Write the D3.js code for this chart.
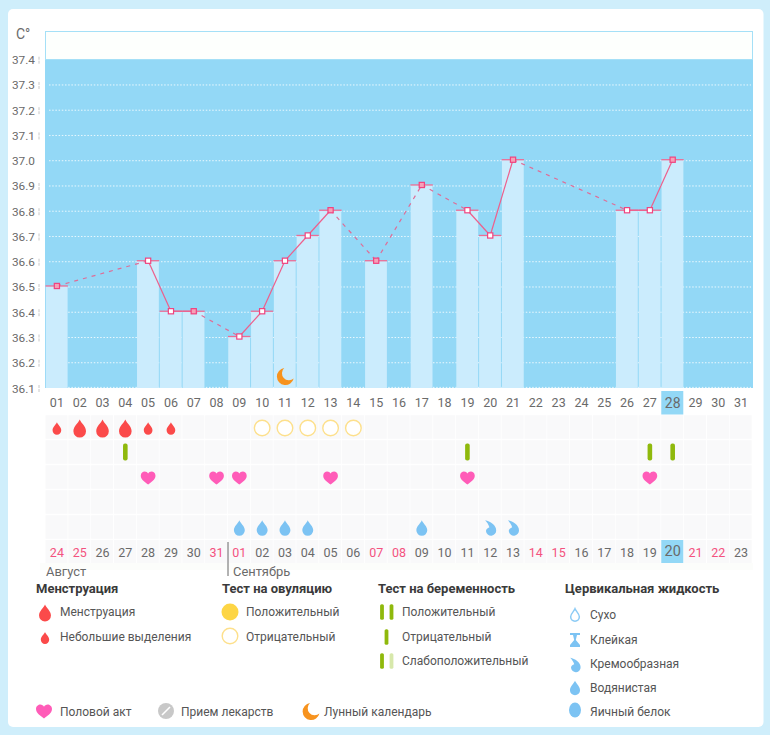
<!DOCTYPE html>
<html><head><meta charset="utf-8">
<script src="https://cdn.jsdelivr.net/npm/d3@7"></script>
<style>html,body{margin:0;padding:0;background:#cfeefb;}svg{display:block;}text{font-family:Roboto,"Open Sans",sans-serif;}</style>
</head><body><svg id="c" width="770" height="735"></svg>
<script>
const cycleDays=["01","02","03","04","05","06","07","08","09","10","11","12","13","14","15","16","17","18","19","20","21","22","23","24","25","26","27","28","29","30","31"];
const calendarDates=["24","25","26","27","28","29","30","31","01","02","03","04","05","06","07","08","09","10","11","12","13","14","15","16","17","18","19","20","21","22","23"];
const redDates=[0,1,7,8,14,15,21,22,28,29];
const tempTicks=[36.1,36.2,36.3,36.4,36.5,36.6,36.7,36.8,36.9,37.0,37.1,37.2,37.3,37.4];
const temps=[[0,36.5],[4,36.6],[5,36.4],[6,36.4],[8,36.3],[9,36.4],[10,36.6],[11,36.7],[12,36.8],[14,36.6],[16,36.9],[18,36.8],[19,36.7],[20,37.0],[25,36.8],[26,36.8],[27,37.0]];
const menstruation=[[0,"s"],[1,"l"],[2,"l"],[3,"l"],[4,"s"],[5,"s"]];
const ovulationNeg=[9,10,11,12,13];
const pregnancyNeg=[3,18,26,27];
const hearts=[4,7,8,12,18,26];
const waterFluid=[8,9,10,11,16];
const creamFluid=[19,20];
const moonDay=10;
const todayIdx=27;

const svg=d3.select("#c");
const x=d3.scaleBand().domain(d3.range(31)).range([45.5,752.5]);
const y=d3.scaleLinear().domain([36.1,37.4]).range([388,59.7]);
const cx=i=>x(i)+x.bandwidth()/2;
const tc="#6a6a6a";

svg.append("rect").attr("x",8).attr("y",9).attr("width",755.5).attr("height",718).attr("rx",5).attr("fill","#fff");
svg.append("rect").attr("x",45.5).attr("y",31.5).attr("width",707).attr("height",28).attr("fill","#fdfffd").attr("stroke","#a5e0f7");
svg.append("rect").attr("x",45).attr("y",60).attr("width",708).attr("height",328).attr("fill","#93d8f6");

const g=svg.append("g");
tempTicks.forEach(t=>{
  if(t<37.39) g.append("line").attr("x1",49).attr("x2",751).attr("y1",t<36.11?y(t)-0.6:y(t)).attr("y2",t<36.11?y(t)-0.6:y(t)).attr("stroke","#eaf8fe").attr("stroke-width",1).attr("stroke-dasharray","1.5 1.7");
});
const marks=g.append("g").attr("transform","translate(0,-1)");
marks.selectAll("rect.b").data(temps).join("rect").attr("class","b")
 .attr("x",d=>x(d[0])+0.3).attr("width",x.bandwidth()-1).attr("y",d=>y(d[1])).attr("height",d=>y(36.1)-y(d[1])+1).attr("fill","#cbecfd");
marks.selectAll("line.cap").data(temps).join("line").attr("class","cap")
 .attr("x1",d=>x(d[0])).attr("x2",d=>x(d[0])+x.bandwidth()-0.4).attr("y1",d=>y(d[1])).attr("y2",d=>y(d[1])).attr("stroke","#ec6d95").attr("stroke-width",1.3);
for(let i=1;i<temps.length;i++){
  const a=temps[i-1],b=temps[i],gap=b[0]-a[0]>1;
  marks.append("line").attr("x1",cx(a[0])).attr("y1",y(a[1])).attr("x2",cx(b[0])).attr("y2",y(b[1]))
   .attr("stroke",gap?"#df6d97":"#ee5f8c").attr("stroke-width",1.2).attr("stroke-dasharray",gap?"4 5":null);
}
marks.selectAll("rect.p").data(temps).join("rect").attr("class","p")
 .attr("x",d=>cx(d[0])-2.6).attr("y",d=>y(d[1])-2.6).attr("width",5.2).attr("height",5.2)
 .attr("fill",(d,i)=>(i===temps.length-1||temps[i+1][0]-d[0]>1)?"#f6a0b8":"#fff").attr("stroke","#f0437f").attr("stroke-width",1.2);

const yAxis=svg.append("g");
tempTicks.forEach(t=>{
  yAxis.append("text").attr("x",35).attr("y",y(t)+4.5).attr("text-anchor","end").attr("font-size",11.8).attr("fill",tc).text(t.toFixed(1));
  if(Math.abs(t-37)>0.01) yAxis.append("line").attr("x1",39).attr("x2",39).attr("y1",y(t)-3).attr("y2",y(t)+4).attr("stroke","#c8c8c8").attr("stroke-dasharray","3 1");
});
svg.append("text").attr("x",16).attr("y",38.5).attr("font-size",14).attr("fill",tc).text("C°");

// tracker grid
const rowY=[427,452,477,502,527];
const rowH=24.6;
rowY.forEach(r=>{
  d3.range(31).forEach(i=>{
    svg.append("rect").attr("x",x(i)).attr("y",r-rowH/2+0.5).attr("width",x.bandwidth()-0.8).attr("height",rowH-1).attr("fill","#f9f9fa");
  });
});
d3.range(31).forEach(i=>{
  svg.append("rect").attr("x",x(i)).attr("y",540).attr("width",x.bandwidth()-0.8).attr("height",23).attr("fill",i===todayIdx?"#93d8f6":"#f9f9fa");
});
svg.append("rect").attr("x",x(todayIdx)).attr("y",391).attr("width",x.bandwidth()-0.8).attr("height",23.5).attr("fill","#93d8f6");
svg.append("rect").attr("x",40).attr("y",563).attr("width",713).attr("height",7).attr("fill","#fcfdfb");

cycleDays.forEach((d,i)=>svg.append("text").attr("x",cx(i)).attr("y",i===todayIdx?408:406.5).attr("text-anchor","middle").attr("font-size",i===todayIdx?14:12.5).attr("fill",tc).text(d));
calendarDates.forEach((d,i)=>svg.append("text").attr("x",cx(i)).attr("y",i===todayIdx?556:557).attr("text-anchor","middle").attr("font-size",i===todayIdx?14.5:12.5)
  .attr("fill",redDates.includes(i)?"#f4527f":tc).text(d));
svg.append("text").attr("x",46).attr("y",576).attr("font-size",12.9).attr("fill",tc).text("Август");
svg.append("text").attr("x",233).attr("y",576).attr("font-size",12.9).attr("fill",tc).text("Сентябрь");
svg.append("line").attr("x1",228).attr("x2",228).attr("y1",542).attr("y2",576).attr("stroke","#666").attr("stroke-width",1);

// symbols
function drop(sel,px,py,s,fill,stroke){
  return sel.append("path").attr("transform",`translate(${px},${py}) scale(${s})`)
   .attr("d","M0,-10 C1.5,-6 7,-2.5 7,3 A7,7 0 0 1 -7,3 C-7,-2.5 -1.5,-6 0,-10 Z")
   .attr("fill",fill||"none").attr("stroke",stroke||"none").attr("stroke-width",stroke?1.5/s:0);
}
function heart(sel,px,py,s,fill){
  return sel.append("path").attr("transform",`translate(${px},${py}) scale(${s})`)
   .attr("d","M0,7.5 C-3,5 -8,2.5 -8,-2 C-8,-5 -5.5,-6.5 -3.8,-6.5 C-2,-6.5 -0.7,-5.5 0,-4.3 C0.7,-5.5 2,-6.5 3.8,-6.5 C5.5,-6.5 8,-5 8,-2 C8,2.5 3,5 0,7.5 Z").attr("fill",fill);
}
function cream(sel,px,py,s,fill){
  return sel.append("path").attr("transform",`translate(${px},${py}) scale(${s})`)
   .attr("d","M-6,-9 C0,-8 7,-3 7,2.5 A6,6 0 0 1 -5,3.5 C-5,1 -3,0 -1,-1 C-2,-4 -4,-7 -6,-9 Z").attr("fill",fill);
}
function moon(sel,px,py,s,fill){
  return sel.append("path").attr("transform",`translate(${px},${py}) scale(${s})`)
   .attr("d","M-1,-8.4 A8.5,8.5 0 1 0 8.4,2 A6.6,6.6 0 0 1 -1,-8.4 Z").attr("fill",fill);
}
function pill(sel,px,py,w,h,fill){
  return sel.append("rect").attr("x",px-w/2).attr("y",py-h/2).attr("width",w).attr("height",h).attr("rx",w/2.4).attr("fill",fill);
}
const red="#fb4a4a",blue="#7cc3f3",yellow="#fde08c",green="#8fb90c",pink="#ff5cb8",orange="#f7931e";
menstruation.forEach(([i,k])=>drop(svg,cx(i),428.5,k==="l"?0.9:0.62,red));
ovulationNeg.forEach(i=>svg.append("circle").attr("cx",cx(i)).attr("cy",428).attr("r",7.8).attr("fill","#fff").attr("stroke",yellow).attr("stroke-width",1.4));
pregnancyNeg.forEach(i=>pill(svg,cx(i),452,4.6,17,green));
hearts.forEach(i=>heart(svg,cx(i),477.5,0.92,pink));
waterFluid.forEach(i=>drop(svg,cx(i),528,0.78,blue));
creamFluid.forEach(i=>cream(svg,cx(i),528,0.85,blue));
moon(svg,cx(moonDay)+0.3,376.5,1,orange);

// legend
function head(px,py,t){svg.append("text").attr("x",px).attr("y",py).attr("font-size",13).attr("font-weight",700).attr("fill","#3a3a3a").text(t);}
function item(px,py,t){svg.append("text").attr("x",px).attr("y",py).attr("font-size",12).attr("fill","#555").text(t);}
head(36,593,"Менструация");head(222,593,"Тест на овуляцию");head(378,593,"Тест на беременность");head(565,593,"Цервикальная жидкость");
drop(svg,45,613,0.85,red);item(60,616,"Менструация");
drop(svg,45,638,0.6,red);item(60,641,"Небольшие выделения");
svg.append("circle").attr("cx",230).attr("cy",612).attr("r",8.5).attr("fill","#fdd545");item(246,616,"Положительный");
svg.append("circle").attr("cx",230).attr("cy",636).attr("r",7.8).attr("fill","#fff").attr("stroke",yellow).attr("stroke-width",1.4);item(246,641,"Отрицательный");
pill(svg,382,612,3.8,15.5,green);pill(svg,391.5,612,3.8,15.5,green);item(402,616,"Положительный");
pill(svg,386.5,637,3.8,15.5,green);item(402,641,"Отрицательный");
pill(svg,382,661,3.8,15.5,green);pill(svg,391.5,661,3.8,15.5,"#d7e8ab");item(402,665,"Слабоположительный");
drop(svg,575,615,0.62,"#fff","#8ccbf5");item(590,619,"Сухо");
svg.append("path").attr("transform","translate(575,640)").attr("d","M-5,-7 H5 V-5 H2 L0.8,0 L5,5 V7 H-5 V5 L-0.8,0 L-2,-5 H-5 Z").attr("fill",blue);item(590,644,"Клейкая");
cream(svg,575,665,0.8,blue);item(590,668,"Кремообразная");
drop(svg,575,688,0.72,blue);item(590,692,"Водянистая");
svg.append("ellipse").attr("cx",575).attr("cy",710).attr("rx",6).attr("ry",7.5).attr("fill",blue);item(590,716,"Яичный белок");
heart(svg,44,711,1,pink);item(60,716,"Половой акт");
svg.append("circle").attr("cx",166).attr("cy",711).attr("r",8).attr("fill","#c8c8c8");
svg.append("line").attr("x1",162).attr("y1",715).attr("x2",170).attr("y2",707).attr("stroke","#fff").attr("stroke-width",1.6);
item(181,716,"Прием лекарств");
moon(svg,311,711.5,1,orange);item(324,716,"Лунный календарь");
</script></body></html>
